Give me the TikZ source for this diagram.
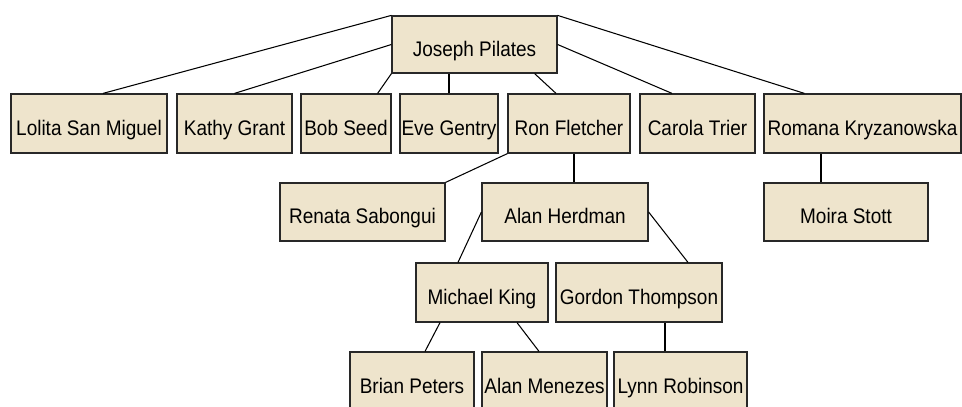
\documentclass[tikz,border=0pt]{standalone}
\usepackage{fontspec}
\setmainfont[FakeStretch=0.9]{Liberation Sans}
\usepackage{xcolor}
\usepackage{tikz}
\definecolor{boxfill}{RGB}{238,228,204}
\definecolor{boxline}{RGB}{40,40,40}

\begin{document}
\begin{tikzpicture}[x=0.02cm,y=-0.02cm,
  person/.style={draw=boxline,line width=0.7pt,fill=boxfill,inner sep=0pt,
    text height=0.46cm,text depth=0cm,
    minimum height=1.18cm,font=\fontsize{12pt}{14pt}\selectfont},
  link/.style={line width=0.6pt,black}]
\useasboundingbox (0,0) rectangle (962,406);
\clip (0,0) rectangle (962,406);
\fill[white] (0,0) rectangle (962,406);
% top
\node[person,minimum width=3.3cm,minimum height=1.14cm] (jp) at (474.5,44.5) {Joseph Pilates};
% first row
\node[person,minimum width=3.12cm] (lolita) at (89,123.5) {Lolita San Miguel};
\node[person,minimum width=2.3cm] (kathy) at (234.5,123.5) {Kathy Grant};
\node[person,minimum width=1.8cm] (bob) at (346,123.5) {Bob Seed};
\node[person,minimum width=1.96cm] (eve) at (449,123.5) {Eve Gentry};
\node[person,minimum width=2.44cm] (ron) at (569,123.5) {Ron Fletcher};
\node[person,minimum width=2.3cm] (carola) at (697.5,123.5) {Carola Trier};
\node[person,minimum width=3.94cm] (romana) at (862.5,123.5) {Romana Kryzanowska};
% second row
\node[person,minimum width=3.3cm,minimum height=1.16cm] (renata) at (362.5,212) {Renata Sabongui};
\node[person,minimum width=3.32cm,minimum height=1.16cm] (alanh) at (565,212) {Alan Herdman};
\node[person,minimum width=3.28cm,minimum height=1.16cm] (moira) at (846,212) {Moira Stott};
% third row
\node[person,minimum width=2.64cm] (michael) at (482,292.5) {Michael King};
\node[person,minimum width=3.32cm] (gordon) at (639,292.5) {Gordon Thompson};
% fourth row
\node[person,minimum width=2.48cm] (brian) at (412,381.5) {Brian Peters};
\node[person,minimum width=2.5cm] (alanm) at (544.5,381.5) {Alan Menezes};
\node[person,minimum width=2.66cm] (lynn) at (680.5,381.5) {Lynn Robinson};

\draw[link] (jp.north west) -- ([xshift=0.28cm]lolita.north);
\draw[link] (jp.west) -- (kathy.north);
\draw[link] (jp.south west) -- ([xshift=-0.28cm]bob.north east);
\draw[link] (eve.north) -- (eve.north |- jp.south);
\draw[link] ([xshift=-0.46cm]jp.south east) -- ([xshift=-0.26cm]ron.north);
\draw[link] (jp.east) -- ([xshift=-0.51cm]carola.north);
\draw[link] (jp.north east) -- ([xshift=0.82cm]romana.north west);
%\draw[link] (romana.south) -- (moira.north);
\draw[link] ([xshift=-0.5cm]moira.north) coordinate (mt) -- (mt |- romana.south);
\draw[link] (ron.south west) -- (renata.north east);
\draw[link] ([xshift=0.1cm]ron.south) coordinate (rs) -- (rs |- alanh.north);
\draw[link] (alanh.west) -- ([xshift=-0.48cm]michael.north);
\draw[link] (alanh.east) -- ([xshift=0.98cm]gordon.north);
\draw[link] ([xshift=-0.84cm]michael.south) -- ([xshift=0.26cm]brian.north);
\draw[link] ([xshift=0.7cm]michael.south) -- ([xshift=-0.11cm]alanm.north);
\draw[link] ([xshift=-0.31cm]lynn.north) coordinate (lt) -- (lt |- gordon.south);
\end{tikzpicture}
\end{document}
